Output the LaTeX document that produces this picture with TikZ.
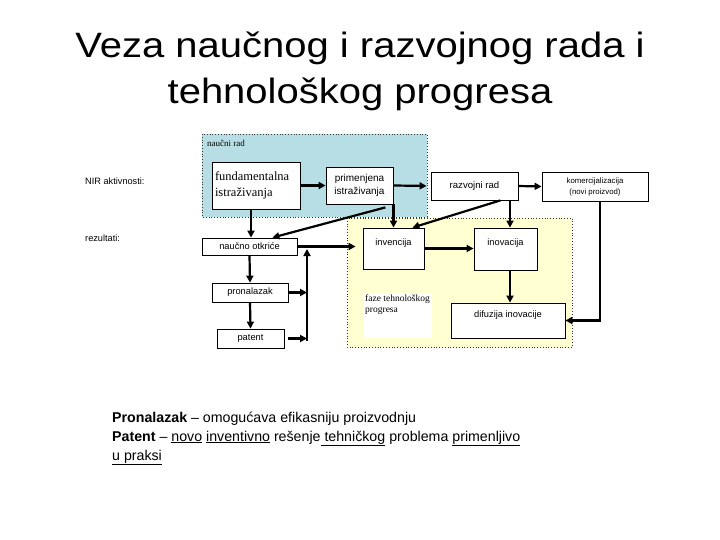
\documentclass[tikz,border=0pt]{standalone}
\usepackage{fontspec}
\setmainfont{Liberation Sans}
\newfontfamily\tms{Liberation Serif}
\usetikzlibrary{arrows.meta,calc}
\definecolor{nrblue}{RGB}{183,222,228}
\definecolor{tpyellow}{RGB}{255,255,210}
\begin{document}
\begin{tikzpicture}[x=1pt,y=-1pt,
  box/.style n args={2}{draw=black,line width=0.8pt,fill=white,minimum width=#1,minimum height=#2,inner sep=0pt,align=center},
  region/.style={draw=black!80,dotted,line width=0.8pt},
  arr/.style={line width=2.2pt,-{Triangle[length=7pt,width=7pt]}},
  sm/.style={font=\fontsize{9.3}{11}\selectfont},
  lab/.style={font=\fontsize{9.2}{11}\selectfont,anchor=west,inner sep=0pt}]
\useasboundingbox (0,0) rectangle (720,540);
% title
\node[font=\fontsize{40}{48}\selectfont,anchor=base,inner sep=0pt] (t1) at (360,58) {\scalebox{1}[0.88]{Veza naučnog i razvojnog rada i}};
\node[font=\fontsize{40}{48}\selectfont,anchor=base,inner sep=0pt] (t2) at (360,104) {\scalebox{1}[0.88]{tehnološkog progresa}};
% regions
\fill[tpyellow] (347,218) rectangle (572,347);
\draw[region] (347,218) rectangle (572,347);
\fill[nrblue] (202,134) rectangle (427,217);
\draw[region] (202,134) rectangle (427,217);
\node[font=\tms\fontsize{9}{10}\selectfont,anchor=west,inner sep=0pt] (nrlab) at (207,143) {naučni rad};
% side labels
\node[lab] (nir) at (85,181) {NIR aktivnosti:};
\node[lab] (rez) at (85,238) {rezultati:};
% boxes
\node[box={88pt}{47pt},font=\tms\fontsize{12.5}{15.5}\selectfont,align=left,text width=82pt] (fund) at (256,185.5) {fundamentalna\\istraživanja};
\node[box={67pt}{37pt},font=\fontsize{10}{12.5}\selectfont] (prim) at (359.5,185.5) {primenjena\\istraživanja};
\node[box={87pt}{28pt},font=\fontsize{9.6}{11}\selectfont] (razv) at (474.5,186) {razvojni rad};
\node[box={106pt}{29pt},font=\fontsize{7.8}{11}\selectfont] (kom) at (595,186.5) {komercijalizacija\\(novi proizvod)};
\node[box={95pt}{17pt},sm] (otk) at (249.5,246.5) {naučno otkriće};
\node[box={76pt}{19pt},sm] (pron) at (250,292.5) {pronalazak};
\node[box={67pt}{19pt},sm] (pat) at (250.5,338.5) {patent};
\node[box={61pt}{41pt},label={[sm,anchor=north,yshift=-8pt]north:invencija}] (inv) at (393.5,248.5) {};
\node[box={63pt}{42pt},label={[sm,anchor=north,yshift=-8pt]north:inovacija}] (inov) at (505.5,249) {};
\node[box={114pt}{35pt},label={[sm,anchor=north,yshift=-5pt]north:difuzija inovacije}] (dif) at (508,320.5) {};
\node[fill=white,minimum width=68pt,minimum height=45pt,inner sep=0pt] (faze) at (398,315.5) {};
\node[font=\tms\fontsize{9.5}{10.5}\selectfont,anchor=north west,inner sep=0pt,align=left] (fazet) at (365,295) {faze tehnološkog\\progresa};
% connectors
\draw[arr] (fund.east) -- (prim.west);
\draw[arr,shorten >=4pt] (prim.east) -- (razv.west);
\draw[arr] (razv.east) -- (kom.west);
\draw[arr] ([xshift=-5pt]fund.south) -- ([xshift=1.5pt]otk.north);
\draw[arr] (otk.south) -- (pron.north);
\draw[arr] (pron.south) -- (pat.north);
\draw[arr] (inv.north |- prim.south) -- (inv.north);
\draw[arr] ([xshift=-8pt,yshift=-3pt]prim.south east) -- ([xshift=-25pt]otk.north east);
\draw[arr] ([xshift=-18pt]razv.south east) -- ([xshift=-12pt]inv.north east);
\draw[arr] ([xshift=4.5pt]inov.north |- razv.south) -- ([xshift=4.5pt]inov.north);
\draw[arr] (inv.east) -- (inv.east -| inov.west);
\draw[arr] ([xshift=4.5pt]inov.south) -- ([xshift=4.5pt]inov.south |- dif.north);
\draw[arr] ([xshift=5pt]kom.south) |- (dif.east);
\draw[arr,shorten >=7pt] (otk.east) -- (otk.east -| inv.west);
\coordinate (vb) at (307,341);
\coordinate (vt) at (307,249);
\draw[arr] (vb) -- (vt);
\draw[arr] (pron.east) -- (pron.east -| vb);
\draw[arr,shorten <=4pt] (pat.east) -- (pat.east -| vb);
% bottom text
\node[font=\fontsize{14.2}{16}\selectfont,anchor=base west,inner sep=0pt] (p1) at (112,422) {\textbf{Pronalazak} – omogućava efikasniju proizvodnju};
\node[font=\fontsize{14.2}{16}\selectfont,anchor=base west,inner sep=0pt] (p2) at (112,441) {\textbf{Patent} – \underline{novo} \underline{inventivno} rešenje\underline{ tehničkog} problema \underline{primenljivo}};
\node[font=\fontsize{14.2}{16}\selectfont,anchor=base west,inner sep=0pt] (p3) at (112,460) {\underline{u praksi}};
\end{tikzpicture}
\end{document}
